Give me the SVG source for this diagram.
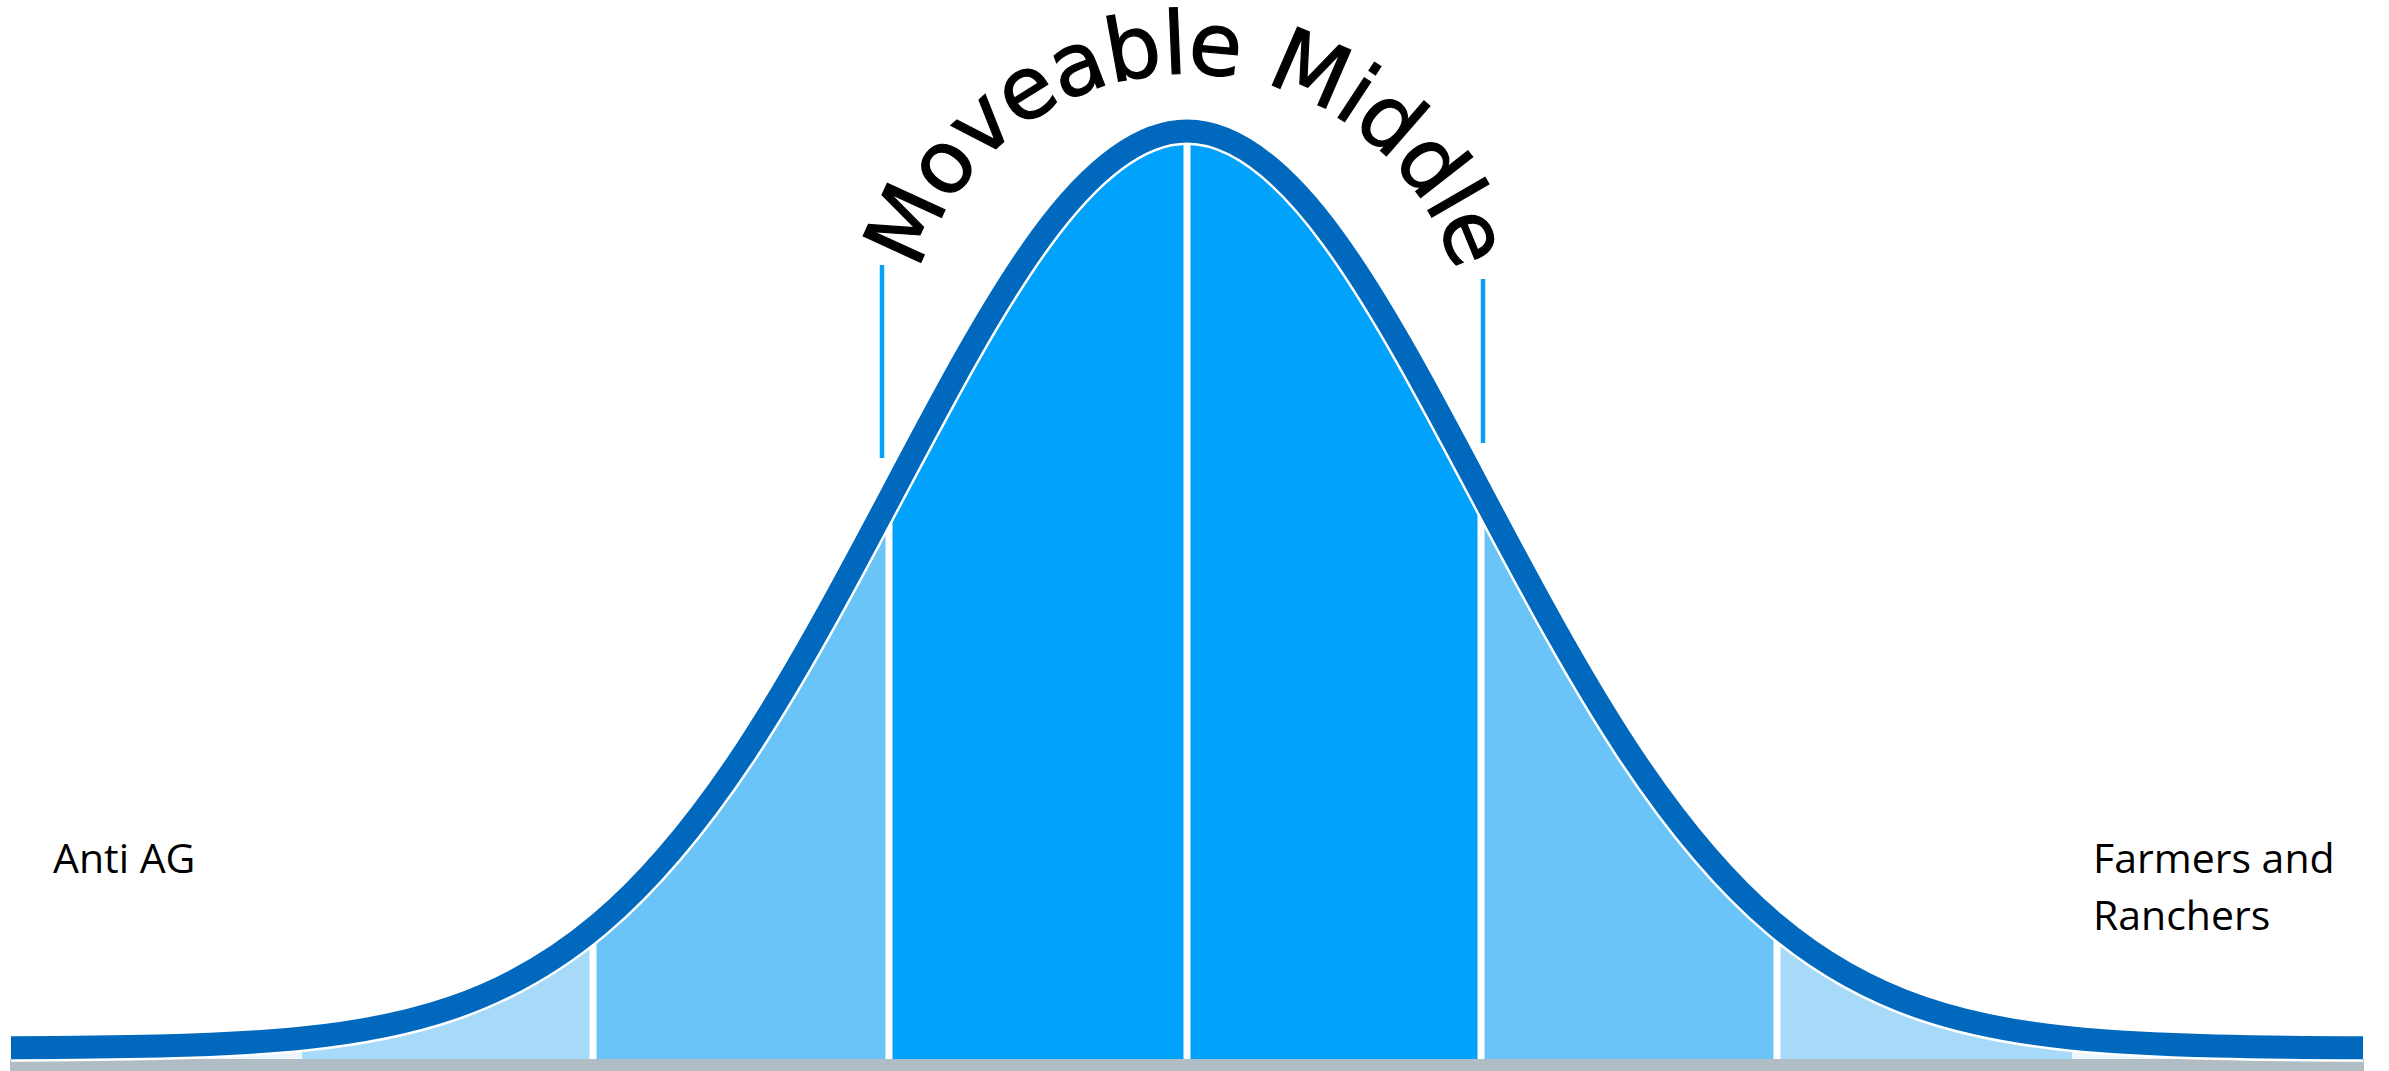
<svg xmlns="http://www.w3.org/2000/svg" width="2389" height="1071" viewBox="0 0 2389 1071">
  <style>
    .label { font-family: "Open Sans", "Noto Sans", sans-serif; font-size: 41px; fill: #000; }
    .arc { font-family: "DejaVu Sans", sans-serif; font-size: 87px; letter-spacing: -1.5px; fill: #000; stroke: #000; stroke-width: 1.2px; }
    .curve { fill: none; stroke: #0069BE; stroke-width: 23; }
    .halo { fill: none; stroke: #ffffff; stroke-width: 28; }
    .tick { stroke: #0AA0F5; stroke-width: 4.5; }
    .divider { fill: #ffffff; }
  </style>
  <defs>
    <path id="bell" d="M 11 1047.7 C 60 1047.5 109 1047.2 158 1046.0 C 207 1044.8 256 1042.9 305 1037.8 C 354 1032.7 403 1024.5 452 1007.7 C 501 990.9 550 965.3 599 923.9 C 648 882.5 697 824.7 746 750.3 C 795 675.9 844 584.5 893 491.8 C 942 399.1 991 306.1 1040 238.7 C 1089 171.3 1138 131 1187 131 C 1236 131 1285 171.3 1334 238.7 C 1383 306.1 1432 399.1 1481 491.8 C 1530 584.5 1579 675.9 1628 750.3 C 1677 824.7 1726 882.5 1775 923.9 C 1824 965.3 1873 990.9 1922 1007.7 C 1971 1024.5 2020 1032.7 2069 1037.8 C 2118 1042.9 2167 1044.8 2216 1046.0 C 2265 1047.2 2314 1047.5 2363 1047.7"/>
    <clipPath id="under">
      <path d="M 11 1047.7 C 60 1047.5 109 1047.2 158 1046.0 C 207 1044.8 256 1042.9 305 1037.8 C 354 1032.7 403 1024.5 452 1007.7 C 501 990.9 550 965.3 599 923.9 C 648 882.5 697 824.7 746 750.3 C 795 675.9 844 584.5 893 491.8 C 942 399.1 991 306.1 1040 238.7 C 1089 171.3 1138 131 1187 131 C 1236 131 1285 171.3 1334 238.7 C 1383 306.1 1432 399.1 1481 491.8 C 1530 584.5 1579 675.9 1628 750.3 C 1677 824.7 1726 882.5 1775 923.9 C 1824 965.3 1873 990.9 1922 1007.7 C 1971 1024.5 2020 1032.7 2069 1037.8 C 2118 1042.9 2167 1044.8 2216 1046.0 C 2265 1047.2 2314 1047.5 2363 1047.7 L 2363 1059 L 11 1059 Z"/>
    </clipPath>
    <path id="textArc" d="M 916 283 A 280 280 0 0 1 1458 283"/>
  </defs>

  <g id="distribution">
    <g id="bands" clip-path="url(#under)">
      <rect x="11" y="100" width="291" height="960" fill="#EEF7FD"/>
      <rect x="302" y="100" width="291" height="960" fill="#A6DAF8"/>
      <rect x="593" y="100" width="296" height="960" fill="#6AC4F7"/>
      <rect x="889" y="100" width="592" height="960" fill="#00A2FB"/>
      <rect x="1481" y="100" width="296" height="960" fill="#6AC4F7"/>
      <rect x="1777" y="100" width="295" height="960" fill="#A6DAF8"/>
      <rect x="2072" y="100" width="291" height="960" fill="#EEF7FD"/>
      <rect class="divider" x="589.5" y="100" width="7" height="960"/>
      <rect class="divider" x="885.5" y="100" width="7" height="960"/>
      <rect class="divider" x="1183.5" y="100" width="7" height="960"/>
      <rect class="divider" x="1477.5" y="100" width="7" height="960"/>
      <rect class="divider" x="1773.5" y="100" width="7" height="960"/>
    </g>
    <rect id="baseline" x="10" y="1059" width="2354" height="12" fill="#B1BDC5"/>
    <use href="#bell" class="halo"/>
    <use href="#bell" class="curve"/>
  </g>

  <g id="connectors">
    <line class="tick" x1="882" y1="265" x2="882" y2="458"/>
    <line class="tick" x1="1483" y1="279" x2="1483" y2="443"/>
  </g>

  <g id="title">
    <text class="arc"><textPath href="#textArc" startOffset="50%" text-anchor="middle">Moveable Middle</textPath></text>
  </g>

  <g id="anti-ag">
    <text class="label" x="53" y="873">Anti AG</text>
  </g>

  <g id="farmers-ranchers">
    <text class="label" x="2093" y="873">Farmers and</text>
    <text class="label" x="2093" y="930">Ranchers</text>
  </g>
</svg>
